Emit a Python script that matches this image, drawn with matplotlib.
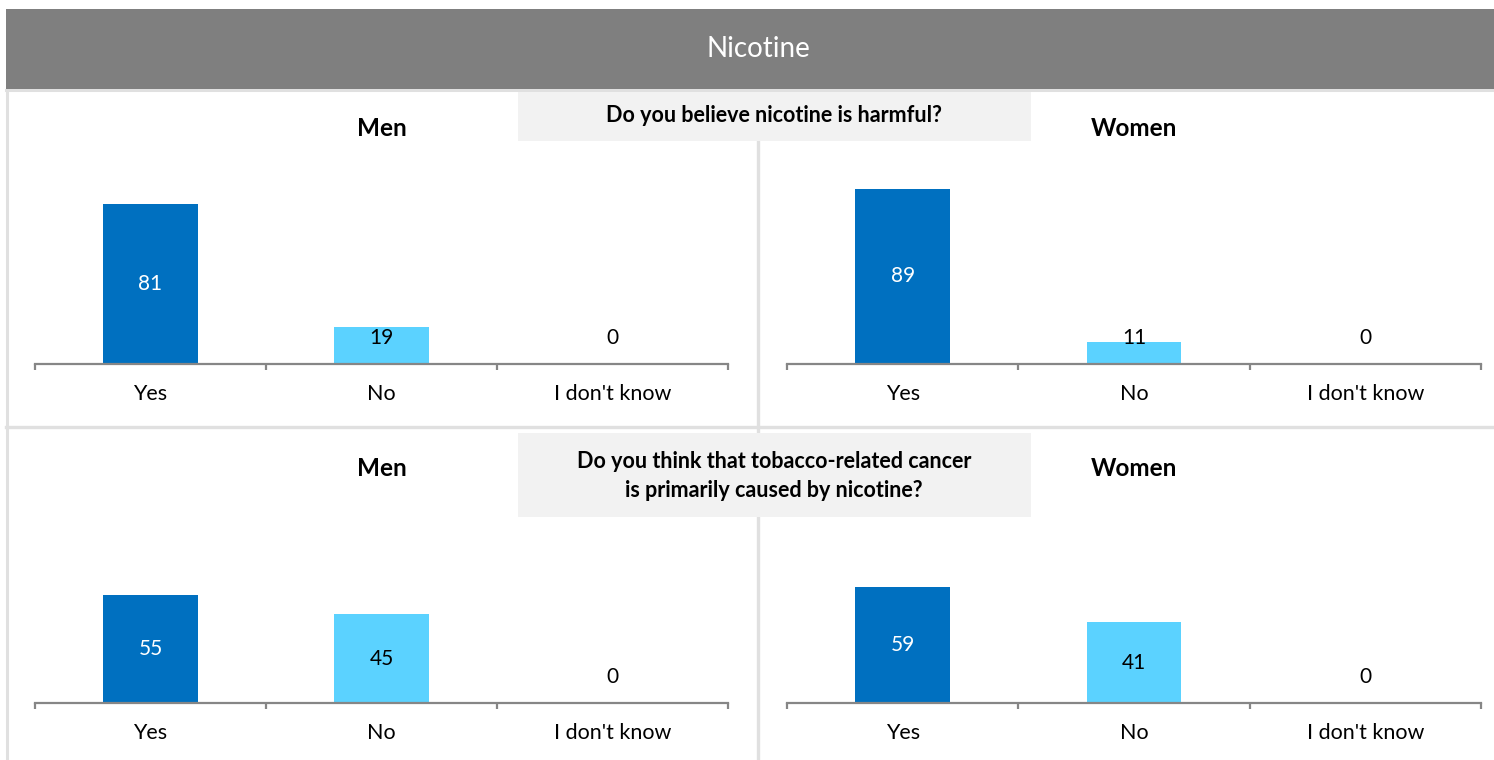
import matplotlib.pyplot as plt
import matplotlib.patches as patches

plt.rcParams['font.family'] = ['Lato', 'DejaVu Sans']

W, H = 1494, 760

title = "Nicotine"
categories = ["Yes", "No", "I don't know"]
questions = ["Do you believe nicotine is harmful?",
             "Do you think that tobacco-related cancer\nis primarily caused by nicotine?"]
groups = ["Men", "Women"]
# values[question][group] -> Yes, No, I don't know
values = [
    [[81, 19, 0], [89, 11, 0]],
    [[55, 45, 0], [59, 41, 0]],
]

bar_colors = ["#0070C0", "#5BD2FF", "#5BD2FF"]
label_colors = ["white", "black", "black"]
line_gray = "#E0E0E0"


def px_axes(x0, y_top, x1, y_bot):
  return [x0 / W, 1 - y_bot / H, (x1 - x0) / W, (y_bot - y_top) / H]


fig = plt.figure(figsize=(W / 100, H / 100), dpi=100)

# background layer in pixel coordinates
bg = fig.add_axes([0, 0, 1, 1], zorder=0)
bg.set_xlim(0, W)
bg.set_ylim(H, 0)
bg.axis('off')

bg.add_patch(patches.Rectangle((6, 9), W - 6, 80, facecolor="#7F7F7F", edgecolor='none', zorder=3))
bg.text(758, 49, title, color='white', fontsize=20, ha='center', va='center', zorder=4)

# frame lines
bg.plot([7, 7], [89, H], color=line_gray, lw=2.2, zorder=1)
bg.plot([6, W], [90, 90], color=line_gray, lw=2.2, zorder=1)
bg.plot([6, W], [427, 427], color=line_gray, lw=2.4, zorder=1)
bg.plot([758, 758], [89, H], color=line_gray, lw=2.4, zorder=1)

# question boxes
boxes = [(92, 141, 116), (433, 517, 476)]
for q, (top, bot, yc) in zip(questions, boxes):
  bg.add_patch(patches.Rectangle((518, top), 513, bot - top, facecolor="#F2F2F2", edgecolor='none', zorder=3))
  bg.text(774, yc, q, fontsize=15.5, fontweight='bold', ha='center', va='center',
          linespacing=1.5, zorder=4)

# group titles
for yc in [128, 468]:
  bg.text(382, yc, groups[0], fontsize=17.5, fontweight='bold', ha='center', va='center')
  bg.text(1134, yc, groups[1], fontsize=17.5, fontweight='bold', ha='center', va='center')

px_per_unit = 1.97
baselines = [364, 703]
x_ranges = [(35, 728), (787, 1481)]
x = list(range(len(categories)))

for qi, base in enumerate(baselines):
  for gi, (x0, x1) in enumerate(x_ranges):
    ax = fig.add_axes(px_axes(x0, base - 100 * px_per_unit, x1, base), zorder=2)
    ax.patch.set_alpha(0)
    vals = values[qi][gi]
    ax.bar(x, vals, width=0.41, color=bar_colors)
    ax.set_xlim(-0.5, 2.5)
    ax.set_ylim(0, 100)
    for s in ['top', 'right', 'left']:
      ax.spines[s].set_visible(False)
    ax.spines['bottom'].set_color("#868686")
    ax.spines['bottom'].set_linewidth(1.6)
    ax.set_yticks([])
    ax.set_xticks([-0.5, 0.5, 1.5, 2.5])
    ax.set_xticklabels([])
    ax.tick_params(axis='x', length=4, width=1.6, color="#868686", direction='out')
    for i, v in enumerate(vals):
      ax.text(i, max(v / 2, 13.3), str(v), color=label_colors[i], fontsize=15,
              ha='center', va='center')
      ax.text(i, -30 / (100 * px_per_unit), categories[i], fontsize=15.5,
              ha='center', va='center', transform=ax.get_xaxis_transform())

fig.savefig("out.png", dpi=100)
